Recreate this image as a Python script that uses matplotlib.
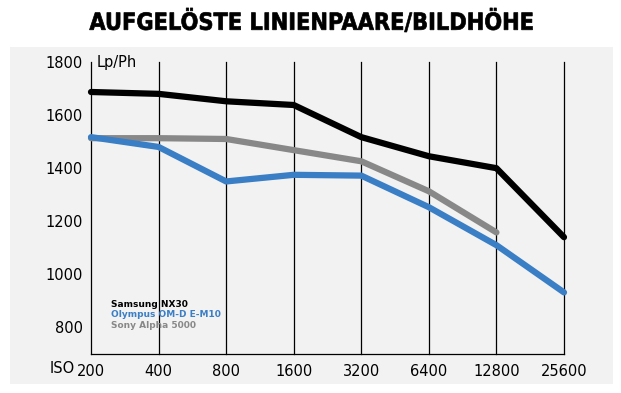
import matplotlib.pyplot as plt
from matplotlib.patches import Rectangle, PathPatch
from matplotlib.textpath import TextPath
from matplotlib.font_manager import FontProperties
from matplotlib.transforms import Affine2D

iso = ['200', '400', '800', '1600', '3200', '6400', '12800', '25600']
samsung = [1687, 1680, 1652, 1638, 1517, 1445, 1400, 1140]
olympus = [1517, 1480, 1350, 1375, 1372, 1253, 1110, 932]
sony = [1513, 1513, 1510, 1468, 1426, 1313, 1158]
yticks = [800, 1000, 1200, 1400, 1600, 1800]
title = 'AUFGELÖSTE LINIENPAARE/BILDHÖHE'

c_black = '#000000'
c_blue = '#3a7ec6'
c_gray = '#888888'

W, H = 621, 393
fig = plt.figure(figsize=(W/100, H/100), dpi=100)
fig.patch.set_facecolor('white')
# grey panel behind the chart
fig.patches.append(Rectangle((10/W, 1-384/H), 603/W, 337/H,
                             transform=fig.transFigure, facecolor='#f2f2f2',
                             edgecolor='none', zorder=-5))

# condensed bold title: squeeze a text path to the reference width
tp = TextPath((0, 0), title, size=100, prop=FontProperties(family='DejaVu Sans', weight='bold'))
ext = tp.get_extents()
sx = 443 / ext.width
sy = 17.2 / 72.9
tr = Affine2D().translate(-ext.x0 - ext.width/2, 0).scale(sx, sy).translate(311, H-29.8)
tr = tr + Affine2D().scale(1/W, 1/H) + fig.transFigure
fig.patches.append(PathPatch(tp, transform=tr, facecolor='black', edgecolor='black', lw=0.5))

ax = fig.add_axes([91/W, 1-354/H, 473/W, 292/H])
ax.set_facecolor('none')
x = list(range(len(iso)))
for i in x:
    ax.axvline(i, color='black', lw=0.9, zorder=1, clip_on=False)
ax.plot(x, samsung, color=c_black, lw=4.5, solid_capstyle='round', solid_joinstyle='round', zorder=3)
ax.plot(x[:len(sony)], sony, color=c_gray, lw=4.5, solid_capstyle='round', solid_joinstyle='round', zorder=2)
ax.plot(x, olympus, color=c_blue, lw=4.5, solid_capstyle='round', solid_joinstyle='round', zorder=4)
for l in ax.lines[-3:]:
    l.set_clip_on(False)

ax.set_xlim(0, 7)
ax.set_ylim(700, 1800)
for s in ['top', 'right', 'left']:
    ax.spines[s].set_visible(False)
ax.spines['bottom'].set_linewidth(0.9)
ax.set_xticks(x)
ax.set_xticklabels(iso, fontsize=10.5)
ax.set_yticks(yticks)
ax.set_yticklabels([str(v) for v in yticks], fontsize=10.5)
ax.tick_params(length=0, pad=6)
ax.tick_params(axis='x', pad=7)
ax.text(-0.43, -0.025, 'ISO', transform=ax.get_xaxis_transform(), ha='center', va='top', fontsize=10.5)
ax.text(0.09, 1800, 'Lp/Ph', ha='left', va='center', fontsize=10.5)

ax.text(0.042, 0.171, 'Samsung NX30', transform=ax.transAxes, va='center', fontsize=6.5, fontweight='bold', color=c_black)
ax.text(0.042, 0.134, 'Olympus OM-D E-M10', transform=ax.transAxes, va='center', fontsize=6.5, fontweight='bold', color=c_blue)
ax.text(0.042, 0.099, 'Sony Alpha 5000', transform=ax.transAxes, va='center', fontsize=6.5, fontweight='bold', color=c_gray)

fig.savefig('out.png', dpi=100)
